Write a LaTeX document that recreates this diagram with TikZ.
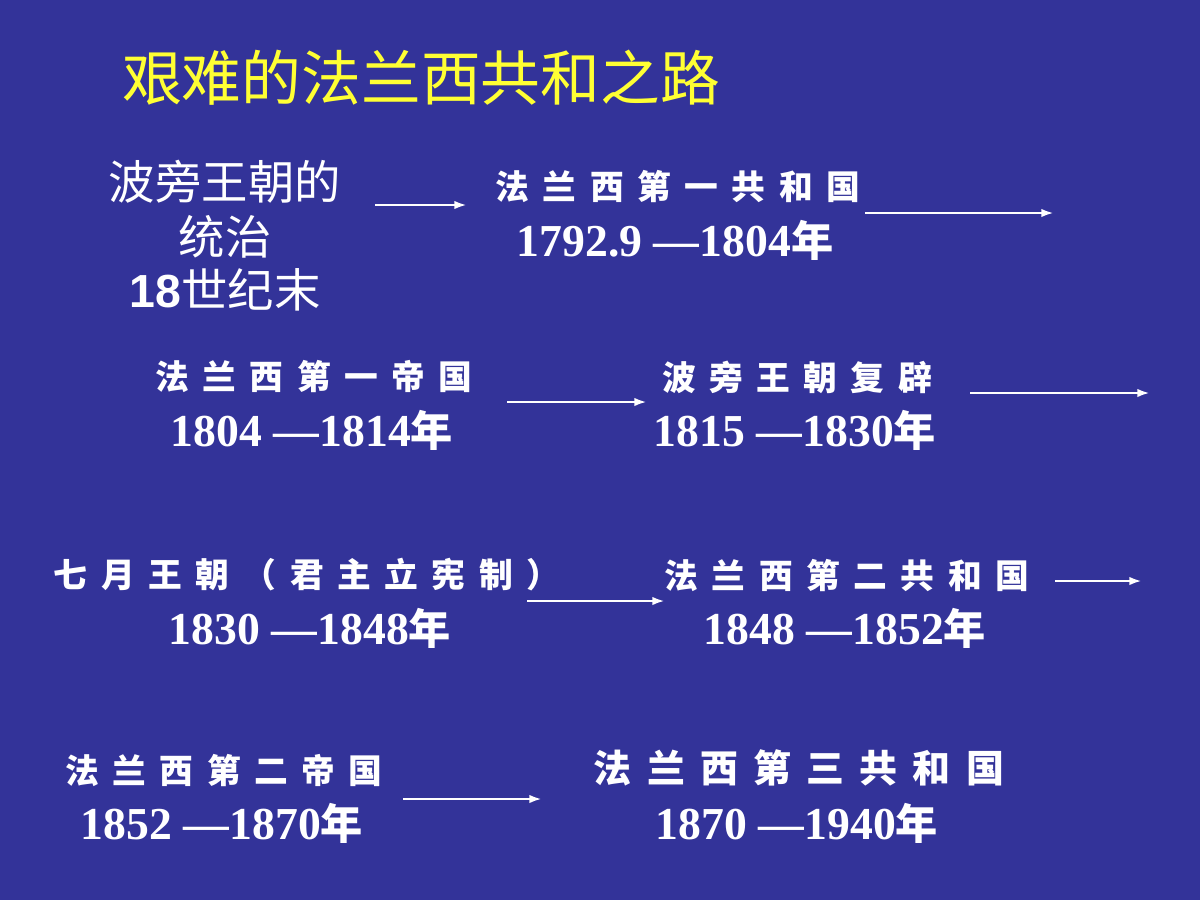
\documentclass[tikz,border=0pt]{standalone}
\usepackage{fontspec}
\setmainfont{Liberation Serif}
\newfontfamily\cjk{Noto Sans CJK SC}
\newfontfamily\cjkw[LetterSpace=40]{Noto Sans CJK SC}
\newfontfamily\sans{Liberation Sans}
\usetikzlibrary{arrows.meta}
\definecolor{bg}{HTML}{333399}
\definecolor{ttl}{HTML}{FFFF33}
\begin{document}
\begin{tikzpicture}[x=0.025cm,y=-0.025cm,
  nm/.style={text=white,font=\cjkw\bfseries\fontsize{24}{28}\selectfont,inner sep=0pt},
  yr/.style={text=white,font=\bfseries\fontsize{32.5}{36}\selectfont,inner sep=0pt},
  arr/.style={white,line width=1.8pt,-{Latex[length=9pt,width=6pt]}}]
\fill[bg] (0,0) rectangle (1200,900);
\useasboundingbox (0,0) rectangle (1200,900);
\node[text=ttl,font=\cjk\fontsize{42.5}{46}\selectfont,inner sep=0pt] (t) at (421,78) {艰难的法兰西共和之路};
\node[text=white,font=\cjk\fontsize{33}{36}\selectfont,inner sep=0pt] (a1) at (225,182) {波旁王朝的};
\node[text=white,font=\cjk\fontsize{33}{36}\selectfont,inner sep=0pt] (a2) at (225,237) {统治};
\node[text=white,font=\cjk\fontsize{33}{36}\selectfont,inner sep=0pt] (a3) at (225,290) {{\sans\bfseries 18}世纪末};
\newcommand\yrt[2]{#1 \textemdash#2{\cjk\bfseries\fontsize{30}{34}\selectfont 年}}
\node[nm] (b1) at (678,187) {法兰西第一共和国};
\node[yr] (b2) at (675,240) {\yrt{1792.9}{1804}};
\node[nm] (c1) at (314,377) {法兰西第一帝国};
\node[yr] (c2) at (312,430) {\yrt{1804}{1814}};
\node[nm] (d1) at (797,377) {波旁王朝复辟};
\node[yr] (d2) at (795,430) {\yrt{1815}{1830}};
\node[nm] (e1) at (307,575) {七月王朝（君主立宪制）};
\node[yr] (e2) at (310,628) {\yrt{1830}{1848}};
\node[nm] (f1) at (847,575) {法兰西第二共和国};
\node[yr] (f2) at (845,628) {\yrt{1848}{1852}};
\node[nm] (g1) at (224,770) {法兰西第二帝国};
\node[yr] (g2) at (222,823) {\yrt{1852}{1870}};
\node[nm,font=\cjkw\bfseries\fontsize{27}{30}\selectfont] (h1) at (799,768) {法兰西第三共和国};
\node[yr] (h2) at (797,823) {\yrt{1870}{1940}};
\coordinate (p1) at (375,205); \coordinate (q1) at (467,205);
\coordinate (p2) at (865,213); \coordinate (q2) at (1054,213);
\coordinate (p3) at (507,402); \coordinate (q3) at (647,402);
\coordinate (p4) at (970,393); \coordinate (q4) at (1150,393);
\coordinate (p5) at (527,601); \coordinate (q5) at (665,601);
\coordinate (p6) at (1055,581); \coordinate (q6) at (1142,581);
\coordinate (p7) at (403,799); \coordinate (q7) at (542,799);
\foreach \i in {1,...,7} \draw[arr] (p\i) -- (q\i);
\end{tikzpicture}
\end{document}
